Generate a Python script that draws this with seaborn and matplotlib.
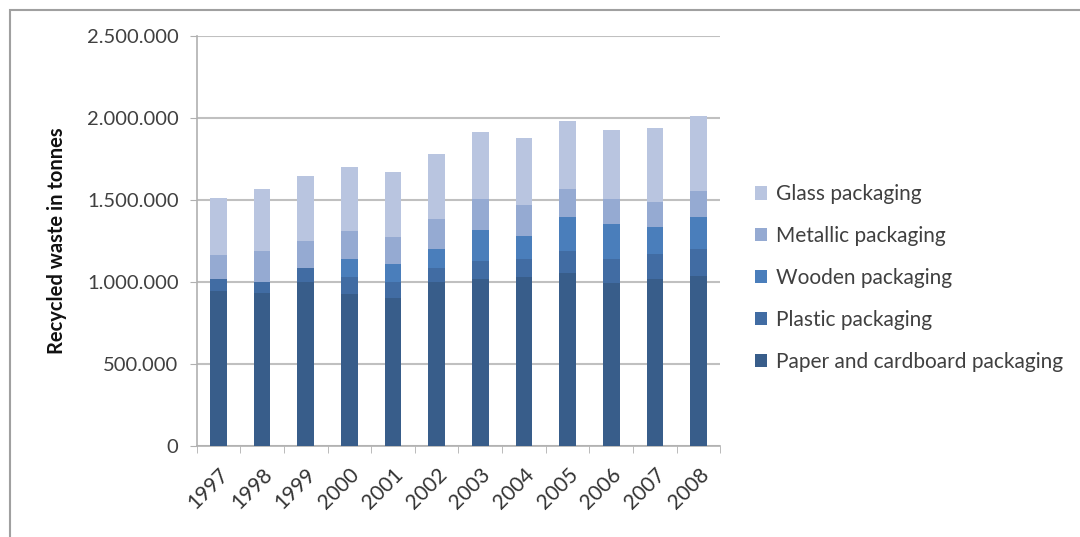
import matplotlib
matplotlib.use("Agg")
import matplotlib.pyplot as plt
from matplotlib.patches import Patch, Rectangle
from matplotlib.ticker import FuncFormatter, FixedLocator
import numpy as np
import pandas as pd
import seaborn as sns

years = ["1997", "1998", "1999", "2000", "2001", "2002",
         "2003", "2004", "2005", "2006", "2007", "2008"]

# tonnes
paper = [943000, 933000, 1000000, 928000, 902000, 1000000,
         1018000, 1030000, 1055000, 994000, 1018000, 1040000]
plastic = [75000, 67000, 85000, 106000, 98000, 89000,
           108000, 110000, 132000, 146000, 155000, 163000]
wooden = [0, 0, 0, 108000, 112000, 114000,
          193000, 139000, 208000, 214000, 161000, 192000]
metallic = [145000, 191000, 167000, 171000, 161000, 182000,
            188000, 189000, 173000, 153000, 155000, 163000]
glass = [351000, 378000, 395000, 389000, 398000, 398000,
         405000, 410000, 416000, 421000, 450000, 452000]

series = ["Paper and cardboard packaging", "Plastic packaging",
          "Wooden packaging", "Metallic packaging", "Glass packaging"]
colors = ["#385d8a", "#416ca3", "#4a7ebb", "#95aad2", "#b9c5e0"]

df = pd.DataFrame({"year": years, series[0]: paper, series[1]: plastic,
                   series[2]: wooden, series[3]: metallic, series[4]: glass})
cum = df[series].cumsum(axis=1)
cum["year"] = df["year"]

sns.set_style("white")
plt.rcParams["font.family"] = ["Lato", "DejaVu Sans"]

fig = plt.figure(figsize=(10.8, 5.37), dpi=100)
ax = fig.add_axes([0.182, 0.169, 0.485, 0.764])

# stacked bars: draw cumulative totals from the top series down
for name, col in reversed(list(zip(series, colors))):
    sns.barplot(data=cum, x="year", y=name, color=col, width=0.38,
                saturation=1, linewidth=0, ax=ax, zorder=3)

ax.set_ylim(0, 2500000)
ax.set_xlim(-0.5, len(years) - 0.5)
ax.set_yticks(np.arange(0, 2500001, 500000))
ax.yaxis.set_major_formatter(FuncFormatter(lambda v, p: f"{int(v):,}".replace(",", ".")))
ax.grid(axis="y", color="#c0c0c0", linewidth=1.5, zorder=0)
ax.set_axisbelow(True)

for s in ["top", "right"]:
    ax.spines[s].set_visible(False)
for s in ["left", "bottom"]:
    ax.spines[s].set_color("#b0b0b0")
    ax.spines[s].set_linewidth(1.2)

ax.tick_params(axis="y", length=5, color="#b0b0b0", labelsize=14.5,
               labelcolor="#404040", pad=8, left=True)
ax.tick_params(axis="x", which="major", length=0, labelsize=15,
               labelcolor="#333333", pad=13)
ax.xaxis.set_minor_locator(FixedLocator(np.arange(-0.5, len(years), 1)))
ax.tick_params(axis="x", which="minor", length=5, color="#b0b0b0", bottom=True)
plt.setp(ax.get_xticklabels(), rotation=45, ha="right", rotation_mode="anchor")

ax.set_xlabel("")
ax.set_ylabel("Recycled waste in tonnes", fontsize=14.5, fontweight="bold",
              color="#111111", labelpad=14)

handles = [Patch(facecolor=c, edgecolor="none") for c in reversed(colors)]
ax.legend(handles, list(reversed(series)), loc="center left",
          bbox_to_anchor=(1.03, 0.41), frameon=False, fontsize=15,
          labelcolor="#404040", handlelength=0.6, handleheight=0.6,
          handletextpad=0.4, labelspacing=1.05)

fig.patches.append(Rectangle((10 / 1080, -0.1), 1.2, 0.1 + 527 / 537,
                             transform=fig.transFigure, fill=False,
                             edgecolor="#a0a0a0", linewidth=1.5))

fig.savefig("out.png", dpi=100)
